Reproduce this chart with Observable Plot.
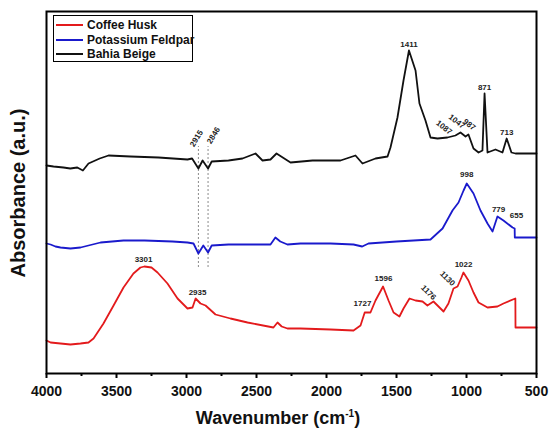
<!DOCTYPE html>
<html><head><meta charset="utf-8">
<script src="https://cdn.jsdelivr.net/npm/d3@7"></script>
<script src="https://cdn.jsdelivr.net/npm/@observablehq/plot@0.6"></script>
<style>
body{margin:0;background:#fff;}
#wrap{position:relative;width:550px;height:431px;font-family:"Liberation Sans",Arial,sans-serif;}
#legend{position:absolute;left:53px;top:15px;width:138px;height:45px;border:1.5px solid #000;background:#fff;}
.row{position:absolute;left:2px;height:14px;display:flex;align-items:center;font-weight:bold;font-size:12px;color:#111;white-space:nowrap;}
.sw{width:27px;height:2px;margin-right:4px;}
</style></head><body><div id="wrap"></div>
<script>
// ---- data (wavenumber cm-1, absorbance a.u.) ----
const seriesNames = ["Coffee Husk", "Potassium Feldpar", "Bahia Beige"];
const seriesColors = ["#e31a1c", "#1a1acc", "#111111"];

const coffeeHusk = [
  [4000,0.33],[3971,0.31],[3900,0.30],[3829,0.29],[3757,0.30],[3700,0.31],[3664,0.35],
  [3593,0.50],[3521,0.68],[3450,0.86],[3379,1.00],[3329,1.06],[3301,1.07],[3250,1.06],
  [3207,1.01],[3136,0.90],[3064,0.75],[2993,0.65],[2957,0.66],[2935,0.75],[2900,0.70],
  [2864,0.68],[2793,0.59],[2686,0.55],[2564,0.51],[2379,0.46],[2350,0.51],[2320,0.47],
  [2279,0.45],[2186,0.45],[1971,0.44],[1807,0.43],[1757,0.48],[1727,0.61],[1686,0.61],
  [1650,0.73],[1596,0.87],[1557,0.73],[1521,0.61],[1479,0.57],[1450,0.65],[1407,0.75],
  [1364,0.73],[1314,0.72],[1279,0.68],[1236,0.72],[1207,0.68],[1164,0.62],[1129,0.70],
  [1093,0.85],[1064,0.87],[1036,0.96],[1022,1.01],[986,0.93],[950,0.81],[914,0.71],
  [850,0.66],[779,0.67],[736,0.70],[651,0.75],[650,0.46],[500,0.46]
];

const potassiumFeldpar = [
  [4000,1.30],[3971,1.29],[3936,1.27],[3900,1.26],[3829,1.25],[3757,1.26],[3700,1.28],
  [3614,1.31],[3450,1.33],[3300,1.33],[3100,1.32],[2993,1.31],[2950,1.30],[2915,1.20],
  [2880,1.28],[2846,1.21],[2820,1.28],[2700,1.29],[2400,1.29],[2365,1.36],[2330,1.32],
  [2279,1.29],[2186,1.30],[1971,1.30],[1807,1.29],[1745,1.27],[1700,1.30],[1500,1.32],
  [1257,1.34],[1171,1.45],[1100,1.63],[1057,1.71],[1021,1.83],[998,1.90],[950,1.80],
  [900,1.63],[850,1.50],[814,1.42],[779,1.57],[736,1.53],[671,1.46],[656,1.45],
  [655,1.36],[500,1.36]
];

const bahiaBeige = [
  [4000,2.08],[3950,2.07],[3879,2.06],[3830,2.05],[3780,2.06],[3740,2.03],[3700,2.10],
  [3620,2.15],[3557,2.18],[3400,2.17],[3200,2.16],[2993,2.14],[2960,2.15],[2915,2.05],
  [2885,2.13],[2846,2.05],[2820,2.12],[2700,2.13],[2600,2.15],[2507,2.20],[2457,2.13],
  [2400,2.14],[2357,2.20],[2257,2.11],[2100,2.13],[1900,2.13],[1793,2.18],[1743,2.10],
  [1650,2.15],[1564,2.17],[1543,2.26],[1493,2.56],[1450,2.93],[1411,3.23],[1364,3.03],
  [1336,2.70],[1293,2.53],[1257,2.36],[1207,2.35],[1136,2.36],[1079,2.38],[1043,2.41],
  [1007,2.37],[986,2.39],[950,2.25],[914,2.21],[886,2.23],[871,2.80],[850,2.21],
  [793,2.24],[743,2.21],[713,2.35],[679,2.21],[650,2.20],[500,2.20]
];

// peak annotations: text, wavenumber, absorbance, rotation (deg)
const peakLabels = [
  ["1411",1411,3.29,0],["871",871,2.86,0],["713",713,2.41,0],
  ["1087",1160,2.46,38],["1047",1070,2.52,38],["987",980,2.49,38],
  ["2915",2929,2.35,-58],["2846",2807,2.38,-58],
  ["998",998,1.99,0],["779",771,1.64,0],["655",643,1.58,0],
  ["3301",3307,1.14,0],["2935",2921,0.81,0],["1727",1743,0.70,0],["1596",1593,0.95,0],
  ["1176",1271,0.81,45],["1130",1136,0.95,45],["1022",1021,1.09,0]
];

const guideWavenumbers = [2915, 2846];
const guideSpan = [1.06, 2.27];

const majorTicks = [4000,3500,3000,2500,2000,1500,1000,500];
const minorTicks = [3750,3250,2750,2250,1750,1250,750];

const xLabel = "Wavenumber (cm";
const xLabelSup = "-1";
const yLabel = "Absorbance (a.u.)";

// ---- chart ----
const allSeries = [coffeeHusk, potassiumFeldpar, bahiaBeige];
const lineMarks = allSeries.map((s, i) =>
  Plot.line(s, {x: d => d[0], y: d => d[1], stroke: seriesColors[i], strokeWidth: 1.8, strokeLinejoin: "round"}));

const chart = Plot.plot({
  width: 550, height: 431,
  marginLeft: 46, marginRight: 14, marginTop: 11, marginBottom: 58,
  style: {fontFamily: "'Liberation Sans', Arial, sans-serif", background: "#fff", overflow: "visible"},
  x: {domain: [4000, 500]},
  y: {domain: [0, 3.62], axis: null},
  marks: [
    Plot.ruleX(guideWavenumbers, {x: d => d, y1: guideSpan[0], y2: guideSpan[1], stroke: "#8a8a8a", strokeWidth: 1, strokeDasharray: "2,2"}),
    ...lineMarks,
    Plot.text(peakLabels, {x: d => d[1], y: d => d[2], text: d => d[0], rotate: d => d[3], fontSize: 8, fontWeight: "bold", fill: "#222"}),
    Plot.axisX({ticks: majorTicks, tickSize: 5, tickPadding: 8, tickFormat: d => String(d), fontSize: 14, fontWeight: "bold", label: null, strokeWidth: 2, stroke: "#000", fill: "#111"}),
    Plot.axisX({ticks: minorTicks, tickSize: 3, tickFormat: () => "", label: null, strokeWidth: 2, stroke: "#000"}),
    Plot.frame({stroke: "#000", strokeWidth: 2})
  ]
});

const wrap = document.getElementById("wrap");
wrap.appendChild(chart);

const svg = d3.select(chart);
const xt = svg.append("text").attr("x", 278).attr("y", 424).attr("text-anchor", "middle")
  .attr("font-size", 18).attr("font-weight", "bold").attr("fill", "#111");
xt.append("tspan").text(xLabel);
xt.append("tspan").attr("dy", -7).attr("font-size", 10).text(xLabelSup);
xt.append("tspan").attr("dy", 7).text(")");

svg.append("text").attr("transform", "translate(25,193) rotate(-90)").attr("text-anchor", "middle")
  .attr("font-size", 20).attr("font-weight", "bold").attr("fill", "#111").text(yLabel);

// legend
const legend = document.createElement("div");
legend.id = "legend";
seriesNames.forEach((name, i) => {
  const row = document.createElement("div");
  row.className = "row";
  row.style.top = (2 + i * 14.5) + "px";
  const sw = document.createElement("span");
  sw.className = "sw";
  sw.style.background = seriesColors[i];
  const t = document.createElement("span");
  t.textContent = name;
  row.appendChild(sw); row.appendChild(t);
  legend.appendChild(row);
});
wrap.appendChild(legend);
</script></body></html>
